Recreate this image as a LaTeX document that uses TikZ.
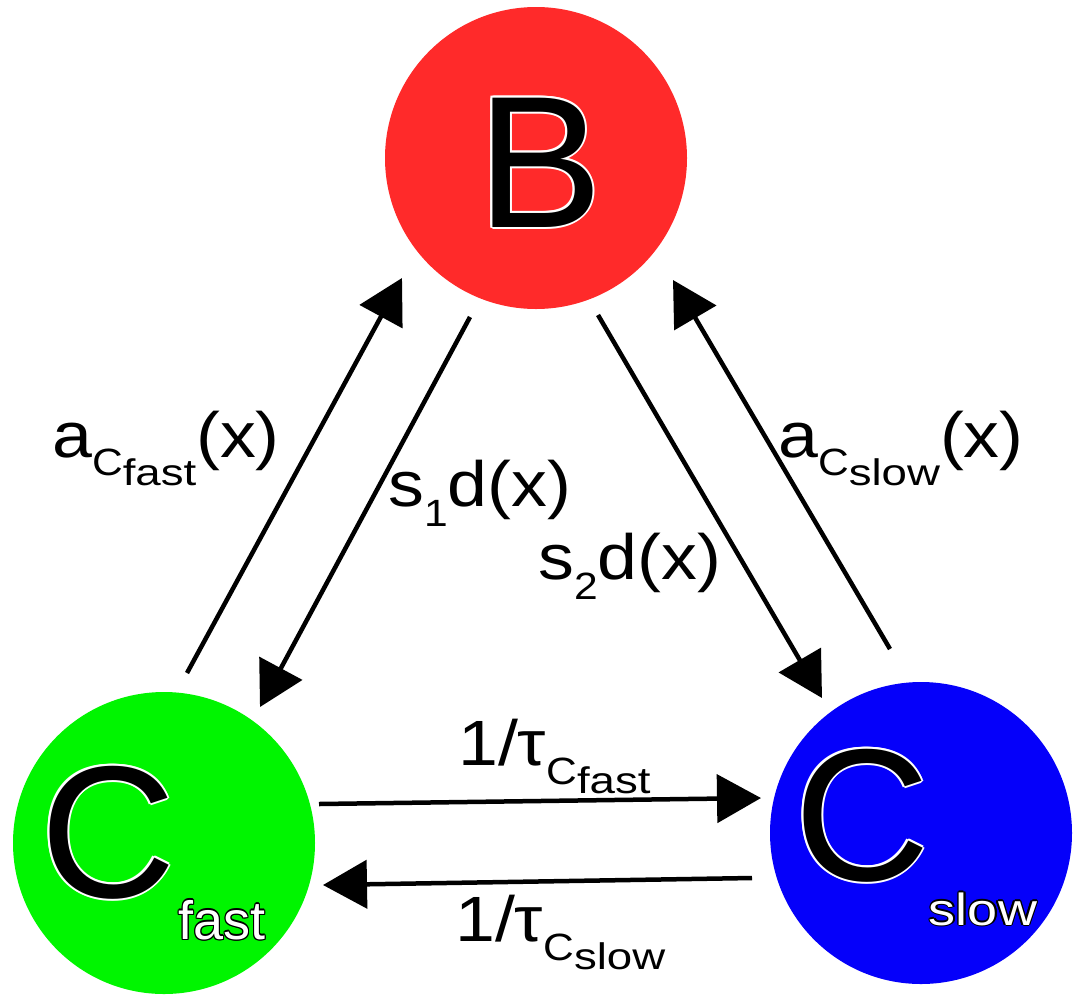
\documentclass[tikz,border=0pt]{standalone}
\usepackage{fontspec}
\usepackage{graphicx}
\setmainfont{Liberation Sans}
\usetikzlibrary{arrows.meta,calc}
\definecolor{cred}{RGB}{255,42,42}
\definecolor{cgreen}{RGB}{0,245,0}
\definecolor{cblue}{RGB}{5,0,250}
\newcommand\Msz{\fontsize{64}{68}\selectfont}
\newcommand\Ssz{\fontsize{38}{40}\selectfont}
\newcommand\SSsz{\fontsize{37}{40}\selectfont}
\newcommand\Bigsz{\fontsize{188}{190}\selectfont}
\newcommand\wide[1]{\scalebox{1.1}[1]{#1}}
\newcommand\stretchlbl[1]{\scalebox{1.12}[1]{#1}}
\newlength\olA \newlength\olB
\newcommand\ocp[3]{\makebox[0pt][l]{\hspace*{#1}\raisebox{#2}{#3}}}
\newcommand\outlinetext[4]{% #1 outline colour, #2 fill colour, #3 radius, #4 text
  \setlength\olA{#3}\setlength\olB{0.707\olA}%
  {\color{#1}%
   \ocp{\olA}{0pt}{#4}\ocp{-\olA}{0pt}{#4}\ocp{0pt}{\olA}{#4}\ocp{0pt}{-\olA}{#4}%
   \ocp{\olB}{\olB}{#4}\ocp{-\olB}{\olB}{#4}\ocp{\olB}{-\olB}{#4}\ocp{-\olB}{-\olB}{#4}}%
  \textcolor{#2}{#4}}
\tikzset{
  state/.style={circle, minimum size=302pt, inner sep=0pt, draw=none},
  flow/.style={line width=4.5pt, -{Triangle[length=44pt, width=48pt]}},
  lbl/.style={anchor=base west, inner sep=0pt, text=black},
  big/.style={anchor=base, inner sep=0pt},
}
\begin{document}
\begin{tikzpicture}[x=1pt, y=-1pt]
\useasboundingbox (0,0) rectangle (1076,994);
% states
\node[state, fill=cred]   (B)  at (536,158) {};
\node[state, fill=cgreen] (Cf) at (164,843) {};
\node[state, fill=cblue]  (Cs) at (921,833) {};
% state letters
\node[big] (Bt)  at (540,227) {\Bigsz\outlinetext{white}{black}{2pt}{B}};
\node[big] (Cft) at (108,897) {\Bigsz\outlinetext{white}{black}{2pt}{C}};
\node[big] (Cfs) at (222,939) {\fontsize{54}{56}\selectfont\outlinetext{black}{white}{1.4pt}{fast}};
\node[big] (Cst) at (862,880) {\Bigsz\outlinetext{white}{black}{2pt}{C}};
\node[big] (Css) at (983,925) {\fontsize{45}{48}\selectfont\scalebox{1.2}[1]{\outlinetext{black}{white}{1.2pt}{slow}}};
% connector end points
\coordinate (p1s) at ($(Cf)+(23,-170)$);
\coordinate (p1e) at ($(B)+(-134,120)$);
\coordinate (p2s) at ($(B)+(-66,159)$);
\coordinate (p2e) at ($(Cf)+(96,-136)$);
\coordinate (p3s) at ($(B)+(62,157)$);
\coordinate (p3e) at ($(Cs)+(-99,-135)$);
\coordinate (p4s) at ($(Cs)+(-31,-184)$);
\coordinate (p4e) at ($(B)+(137,122)$);
\coordinate (p5s) at ($(Cf)+(155,-39)$);
\coordinate (p5e) at ($(Cs)+(-160,-35)$);
\coordinate (p6s) at ($(Cs)+(-169,45)$);
\coordinate (p6e) at ($(Cf)+(159,42)$);
% connectors
\draw[flow] (p1s) -- (p1e);
\draw[flow] (p2s) -- (p2e);
\draw[flow] (p3s) -- (p3e);
\draw[flow] (p4s) -- (p4e);
\draw[flow] (p5s) -- (p5e);
\draw[flow] (p6s) -- (p6e);
% labels
\node[lbl] (l1) at (52,457) {\stretchlbl{{\Msz a}\raisebox{-18pt}{\Ssz C}\raisebox{-28pt}{\SSsz\wide{fast}}{\Msz (x)}}};
\node[lbl] (l2) at (388,506) {\stretchlbl{{\Msz s}\raisebox{-20pt}{\Ssz 1}{\Msz d(x)}}};
\node[lbl] (l3) at (538,579) {\stretchlbl{{\Msz s}\raisebox{-20pt}{\Ssz 2}{\Msz d(x)}}};
\node[lbl] (l4) at (778,457) {\stretchlbl{{\Msz a}\raisebox{-18pt}{\Ssz C}\raisebox{-28pt}{\SSsz\wide{slow}}{\Msz (x)}}};
\node[lbl] (l5) at (458,765) {\stretchlbl{{\Msz 1/τ}\raisebox{-19pt}{\Ssz C}\raisebox{-28pt}{\SSsz\wide{fast}}}};
\node[lbl] (l6) at (455,941) {\stretchlbl{{\Msz 1/τ}\raisebox{-19pt}{\Ssz C}\raisebox{-28pt}{\SSsz\wide{slow}}}};
\end{tikzpicture}
\end{document}
